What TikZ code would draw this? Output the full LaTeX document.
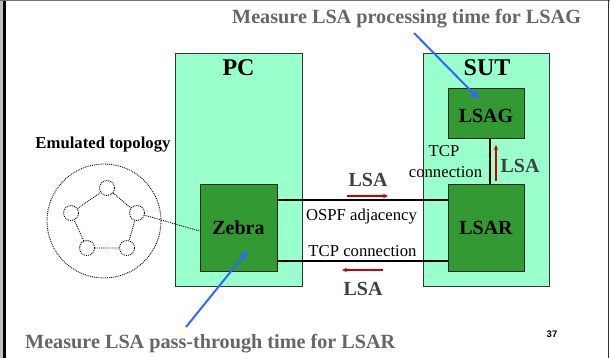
\documentclass[tikz,border=0pt]{standalone}
\usepackage{fontspec}
\setmainfont{Liberation Serif}
\newfontfamily\numfont{Liberation Sans}
\usetikzlibrary{arrows.meta}

\definecolor{mint}{RGB}{153,255,204}
\definecolor{boxgreen}{RGB}{51,153,51}
\definecolor{notegray}{RGB}{102,102,102}
\definecolor{lsagray}{RGB}{64,64,64}
\definecolor{arrowred}{RGB}{204,0,0}
\definecolor{arrowblue}{RGB}{51,102,255}

\tikzset{
  hostbox/.style={draw=black!80, line width=0.8pt, fill=mint, inner sep=0pt},
  procbox/.style={draw=black!85, line width=1pt, fill=boxgreen, inner sep=0pt,
    font=\fontsize{20}{24}\selectfont\bfseries},
  hosttitle/.style={font=\fontsize{24}{28}\selectfont\bfseries, anchor=base, inner sep=0pt},
  note/.style={font=\fontsize{20.2}{24}\selectfont\bfseries, text=notegray, anchor=base west, inner sep=0pt},
  lsalabel/.style={font=\fontsize{20}{24}\selectfont\bfseries, text=lsagray, anchor=base, inner sep=0pt},
  linklabel/.style={font=\fontsize{16.7}{20}\selectfont, anchor=base, inner sep=0pt},
  link/.style={draw=black, line width=1.4pt},
  flow/.style={draw=arrowred, line width=1.7pt, -{Stealth[length=5pt,width=4.5pt]}},
  pointer/.style={draw=arrowblue, line width=2pt, -{Triangle[length=8pt,width=8pt]}},
  dotline/.style={draw=black, line width=0.9pt, dash pattern=on 0.9pt off 1pt},
  router/.style={circle, dotline, minimum size=15pt, inner sep=0pt},
}

\begin{document}
\begin{tikzpicture}[x=1pt, y=-1pt]
\useasboundingbox (0,0) rectangle (610,358);
\fill[white] (0,0) rectangle (610,358);

% slide frame
\fill[black!25] (0,0) rectangle (3,358);
\draw[black, line width=2.5pt] (4.6,0) -- (4.6,358);
\draw[black!55, line width=1pt] (0,0.5) -- (610,0.5);
\draw[black!80, line width=1.2pt] (608.6,0) -- (608.6,358);

% hosts
\node[hostbox, minimum width=127pt, minimum height=233pt] (pc) at (238.5,169.5) {};
\node[hostbox, minimum width=126pt, minimum height=233pt] (sut) at (486,169.5) {};
\node[hosttitle] (pctitle) at (238.5,76) {PC};
\node[hosttitle] (suttitle) at (487,76) {SUT};

% processes
\node[procbox, minimum width=77pt, minimum height=86pt] (zebra) at (238.5,228) {Zebra};
\node[procbox, minimum width=76pt, minimum height=86pt] (lsar) at (486,228) {LSAR};
\node[procbox, minimum width=76pt, minimum height=50pt, text depth=0pt, text height=18pt] (lsag) at (486,114) {LSAG};

% links between the processes
\draw[link] ([yshift=28pt]zebra.east) -- ([yshift=28pt]lsar.west);
\draw[link] ([yshift=-33pt]zebra.east) -- ([yshift=-33pt]lsar.west);
\draw[link] ([xshift=4pt]lsag.south) -- ([xshift=4pt]lsar.north);

\node[linklabel] (ospf) at (361.5,220) {OSPF adjacency};
\node[linklabel] (tcpa) at (362.5,256) {TCP connection};
\node[linklabel] (tcpb1) at (444,157) {TCP};
\node[linklabel] (tcpb2) at (445.5,178) {connection};

% LSA flows
\coordinate (f1s) at (347,196);
\coordinate (f1e) at (388,196);
\coordinate (f2s) at (383,270);
\coordinate (f2e) at (342,270);
\coordinate (f3s) at (496,181);
\coordinate (f3e) at (496,145);
\draw[flow] (f1s) -- (f1e);
\draw[flow] (f2s) -- (f2e);
\draw[flow] (f3s) -- (f3e);
\node[lsalabel] (lsa1) at (368,186) {LSA};
\node[lsalabel] (lsa2) at (363,295) {LSA};
\node[lsalabel] (lsa3) at (520,173) {LSA};

% emulated topology
\node[font=\fontsize{16.7}{20}\selectfont\bfseries, anchor=base, inner sep=0pt] (emu) at (103,149) {Emulated topology};
\node[circle, dotline, minimum size=114pt, inner sep=0pt] (cloud) at (104,221) {};
\node[router] (r1) at (107,188) {};
\node[router] (r2) at (137,213) {};
\node[router] (r3) at (127,248) {};
\node[router] (r4) at (87,248) {};
\node[router] (r5) at (71,213) {};
\draw[dotline] (r1) -- (r2) -- (r3) -- (r4) -- (r5) -- (r1);
\draw[dotline] (r2) -- ([yshift=-3pt]zebra.west);

% measurement notes
\node[note] (notetop) at (232,24) {Measure LSA processing time for LSAG};
\node[note] (notebot) at (25,348) {Measure LSA pass-through time for LSAR};
\coordinate (ptop) at (414,33);
\coordinate (pbot) at (186,327);
\draw[pointer] (ptop) -- ([xshift=-7pt,yshift=15pt]lsag.center);
\draw[pointer] (pbot) -- ([xshift=9pt,yshift=-23pt]zebra.center);

% page number
\node[font=\numfont\fontsize{9.5}{11}\selectfont\bfseries, anchor=base, inner sep=0pt] (pageno) at (552,337) {37};
\end{tikzpicture}
\end{document}
